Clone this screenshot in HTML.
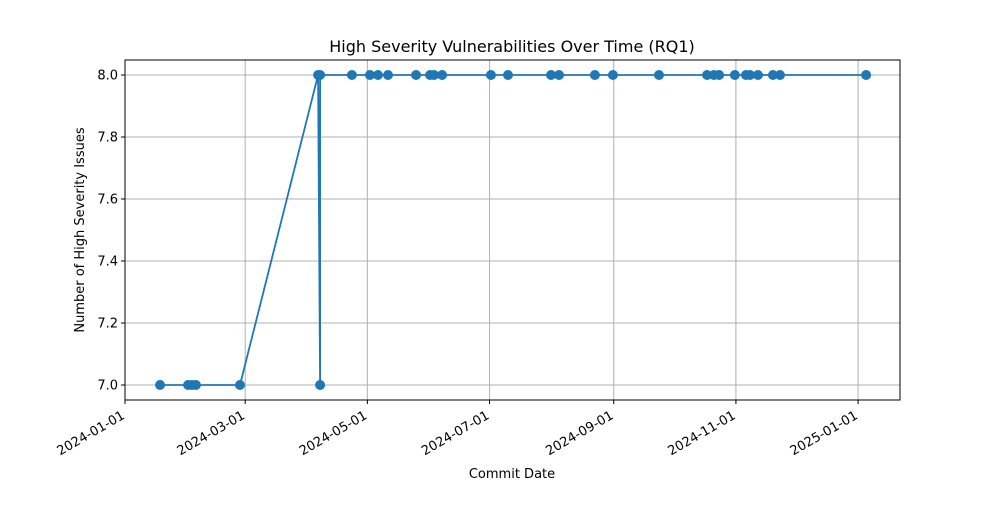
<!DOCTYPE html>
<html><head><meta charset="utf-8"><style>
body{margin:0;background:#fff;font-family:"Liberation Sans","DejaVu Sans",sans-serif}
svg text{font-family:"DejaVu Sans","Liberation Sans",sans-serif}
</style></head><body>
<svg id="chart" width="1000" height="500"></svg>
<script>
// days since 2024-01-01
const commitDays = [17.5,31.5,33.4,35.4,57.4,96.4,97.4,97.4,113.3,122.3,126.3,131.3,145.3,152.3,154.3,158.3,182.7,191.2,212.7,216.7,234.6,243.6,266.6,290.6,294,296.6,304.5,310,312,316,323.5,327,370];
const highCounts = [7,7,7,7,7,8,7,8,8,8,8,8,8,8,8,8,8,8,8,8,8,8,8,8,8,8,8,8,8,8,8,8,8];
const xTickDays = [0,60,121,182,244,305,366];
const xTickLabels = ["2024-01-01","2024-03-01","2024-05-01","2024-07-01","2024-09-01","2024-11-01","2025-01-01"];
const yTicks = [7.0,7.2,7.4,7.6,7.8,8.0];

const NS="http://www.w3.org/2000/svg";
const svg=document.getElementById('chart');
const L=125,R=900,T=60,B=400;
const xs=d=>125+d*2.003;
const ys=v=>385-(v-7)*310;
function mk(t,a,txt){const e=document.createElementNS(NS,t);for(const k in a)e.setAttribute(k,a[k]);if(txt!==undefined)e.textContent=txt;svg.appendChild(e);return e;}

yTicks.forEach(v=>{
  const g=mk('line',{x1:L,x2:R,y1:ys(v),y2:ys(v),stroke:'#b0b0b0','stroke-width':1});
  
  
  mk('line',{x1:L-4,x2:L,y1:ys(v),y2:ys(v),stroke:'#000'});
  const t=mk('text',{x:L-7,y:ys(v)+4.5,'text-anchor':'end','font-size':13},v.toFixed(1));
  
  
});
xTickDays.forEach((d,i)=>{
  const x=xs(d);
  const g=mk('line',{x1:x,x2:x,y1:T,y2:B,stroke:'#b0b0b0','stroke-width':1});
  
  
  mk('line',{x1:x,x2:x,y1:B,y2:B+4,stroke:'#000'});
  const ax=x-4, ay=B+10;
  const t=mk('text',{x:ax,y:ay,'text-anchor':'end','font-size':13,transform:`rotate(-30 ${ax} ${ay})`,dy:'0.7em'},xTickLabels[i]);
  
  
});
const fr=mk('rect',{x:L,y:T,width:R-L,height:B-T,fill:'none',stroke:'#000','stroke-width':1});



const pts=commitDays.map((d,i)=>xs(d)+','+ys(highCounts[i])).join(' ');
const pl=mk('polyline',{points:pts,fill:'none',stroke:'#1f77b4','stroke-width':1.8});


commitDays.forEach((d,i)=>{
  const c=mk('circle',{cx:xs(d),cy:ys(highCounts[i]),r:5,fill:'#1f77b4'});
  
  
});

const ti=mk('text',{x:512,y:52,'text-anchor':'middle','font-size':16},'High Severity Vulnerabilities Over Time (RQ1)');


const xl=mk('text',{x:512,y:478,'text-anchor':'middle','font-size':13},'Commit Date');


const yl=mk('text',{x:0,y:0,'text-anchor':'middle','font-size':13,transform:'translate(84 230) rotate(-90)'},'Number of High Severity Issues');


</script>
</body></html>
